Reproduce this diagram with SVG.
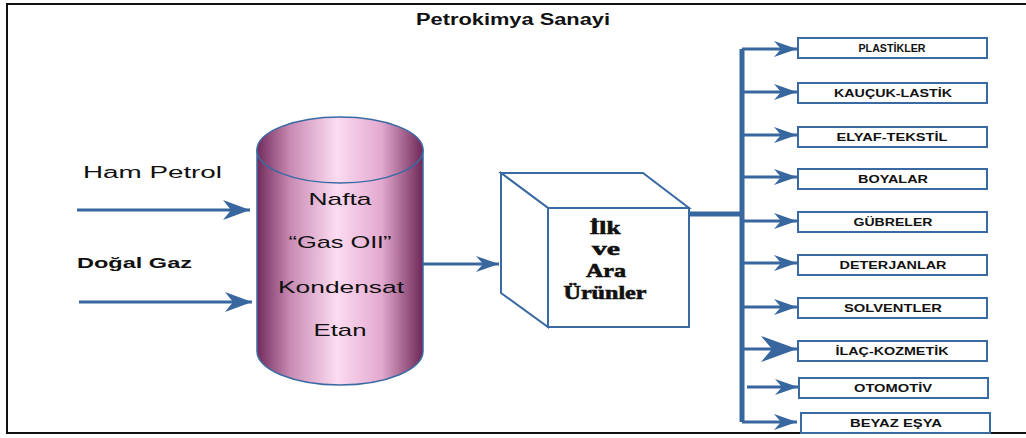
<svg xmlns="http://www.w3.org/2000/svg" width="1026" height="438" viewBox="0 0 1026 438">
<style>
.frame{fill:none;stroke:#111;stroke-width:2}
.conn{stroke:#38679f;fill:none}
.thin{stroke-width:3}
.thick{stroke-width:5}
.box{fill:#fff;stroke:#3a6aa3;stroke-width:2}
.lbl{font-family:"Liberation Sans",Arial,sans-serif;font-weight:bold;font-size:10px;fill:#111;text-anchor:middle}
.ctext{font-family:"Liberation Sans",Arial,sans-serif;font-size:17px;fill:#111;text-anchor:middle}
.side{font-family:"Liberation Sans",Arial,sans-serif;fill:#111}
.cube{fill:#fff;stroke:#3a6aa3;stroke-width:2}
.serif{font-family:"Liberation Serif","Times New Roman",serif;font-weight:bold;font-size:19px;fill:#111;stroke:#111;stroke-width:0.6;text-anchor:middle}
</style>
<defs>
<linearGradient id="cyl" x1="0" y1="0" x2="1" y2="0">
<stop offset="0" stop-color="#722b5c"/>
<stop offset="0.2" stop-color="#c88ab3"/>
<stop offset="0.48" stop-color="#fcdcf2"/>
<stop offset="0.75" stop-color="#e3a9cf"/>
<stop offset="1" stop-color="#6e2757"/>
</linearGradient>
<marker id="ah" markerUnits="userSpaceOnUse" markerWidth="24" markerHeight="16" refX="23" refY="8" orient="auto">
<path d="M0,0 L23,8 L0,16 L7,8 z" fill="#38679f"/>
</marker>
<marker id="ahL" markerUnits="userSpaceOnUse" markerWidth="28" markerHeight="22" refX="27" refY="10" orient="auto">
<path d="M0,0 L27,10 L0,20 L8,10 z" fill="#38679f"/>
</marker>
<marker id="ahXL" markerUnits="userSpaceOnUse" markerWidth="38" markerHeight="28" refX="36" refY="13" orient="auto">
<path d="M0,0 L36,13 L0,26 L11,13 z" fill="#38679f"/>
</marker>
</defs>
<rect width="1026" height="438" fill="#fff"/>
<path class="frame" d="M1026,4 H7 V433 H1026"/>
<text x="513" y="25" font-family="'Liberation Sans',Arial,sans-serif" font-weight="bold" font-size="16" fill="#111" text-anchor="middle" textLength="194" lengthAdjust="spacingAndGlyphs">Petrokimya Sanayi</text>

<g id="inputs">
<text class="side" x="83" y="178" font-size="16" textLength="139" lengthAdjust="spacingAndGlyphs">Ham Petrol</text>
<text class="side" x="77" y="268" font-size="15.5" font-weight="bold" textLength="115" lengthAdjust="spacingAndGlyphs">Doğal Gaz</text>
</g>

<g id="tank">
<path d="M257,150 V351 A83,34 0 0 0 423,351 V150 Z" fill="url(#cyl)" stroke="#3a6aa3" stroke-width="1.5"/>
<ellipse cx="340" cy="150" rx="83" ry="33" fill="url(#cyl)" stroke="#3a6aa3" stroke-width="1.5"/>
<text class="ctext" x="340" y="205" textLength="63" lengthAdjust="spacingAndGlyphs">Nafta</text>
<text class="ctext" x="340" y="248" textLength="103" lengthAdjust="spacingAndGlyphs">“Gas OIl”</text>
<text class="ctext" x="341" y="293" textLength="126" lengthAdjust="spacingAndGlyphs">Kondensat</text>
<text class="ctext" x="340" y="336" textLength="53" lengthAdjust="spacingAndGlyphs">Etan</text>
</g>

<g id="cube">
<path class="cube" d="M501,173 H643 L689,208 H548 Z"/>
<path class="cube" d="M501,173 L548,208 V327 L501,293 Z"/>
<rect class="cube" x="548" y="208" width="141" height="119"/>
<text class="serif" x="605" y="234" textLength="31" lengthAdjust="spacingAndGlyphs">İlk</text>
<text class="serif" x="606" y="255" textLength="28" lengthAdjust="spacingAndGlyphs">ve</text>
<text class="serif" x="606" y="277" textLength="40" lengthAdjust="spacingAndGlyphs">Ara</text>
<text class="serif" x="605" y="299" textLength="83" lengthAdjust="spacingAndGlyphs">Ürünler</text>
</g>

<g id="connectors">
<line class="conn thin" x1="77" y1="210" x2="250" y2="210" marker-end="url(#ahL)"/>
<line class="conn thin" x1="79" y1="302" x2="252" y2="302" marker-end="url(#ahL)"/>
<line class="conn thin" x1="423" y1="264" x2="499" y2="264" marker-end="url(#ah)"/>
<line class="conn thick" x1="689" y1="214" x2="744" y2="214"/>
<path class="conn thick" d="M742,49 V422"/>
<line class="conn thin" x1="742" y1="49" x2="797" y2="49" marker-end="url(#ah)"/>
<line class="conn thin" x1="742" y1="92" x2="797" y2="92" marker-end="url(#ah)"/>
<line class="conn thin" x1="742" y1="135" x2="797" y2="135" marker-end="url(#ah)"/>
<line class="conn thin" x1="742" y1="177" x2="797" y2="177" marker-end="url(#ah)"/>
<line class="conn thin" x1="742" y1="221" x2="797" y2="221" marker-end="url(#ah)"/>
<line class="conn thin" x1="742" y1="263" x2="797" y2="263" marker-end="url(#ah)"/>
<line class="conn thin" x1="742" y1="307" x2="797" y2="307" marker-end="url(#ah)"/>
<line class="conn thin" x1="742" y1="349" x2="797" y2="349" marker-end="url(#ahXL)"/>
<line class="conn thin" x1="747" y1="387" x2="798" y2="387" marker-end="url(#ah)"/>
<line class="conn thin" x1="742" y1="422" x2="797" y2="422" marker-end="url(#ah)"/>
</g>

<g id="n-plastikler"><rect class="box" x="798" y="38" width="189" height="20"/><text class="lbl" x="892" y="52" font-size="9" textLength="67" lengthAdjust="spacingAndGlyphs">PLASTİKLER</text></g>
<g id="n-kaucuk"><rect class="box" x="798" y="83" width="189" height="20"/><text class="lbl" x="893" y="97" textLength="118" lengthAdjust="spacingAndGlyphs">KAUÇUK-LASTİK</text></g>
<g id="n-elyaf"><rect class="box" x="798" y="127" width="189" height="20"/><text class="lbl" x="892" y="141" textLength="111" lengthAdjust="spacingAndGlyphs">ELYAF-TEKSTİL</text></g>
<g id="n-boyalar"><rect class="box" x="798" y="169" width="189" height="20"/><text class="lbl" x="893" y="183" textLength="70" lengthAdjust="spacingAndGlyphs">BOYALAR</text></g>
<g id="n-gubreler"><rect class="box" x="798" y="212" width="189" height="20"/><text class="lbl" x="893" y="226" textLength="79" lengthAdjust="spacingAndGlyphs">GÜBRELER</text></g>
<g id="n-deterjanlar"><rect class="box" x="798" y="255" width="189" height="20"/><text class="lbl" x="893" y="269" textLength="107" lengthAdjust="spacingAndGlyphs">DETERJANLAR</text></g>
<g id="n-solventler"><rect class="box" x="798" y="298" width="189" height="20"/><text class="lbl" x="893" y="312" textLength="98" lengthAdjust="spacingAndGlyphs">SOLVENTLER</text></g>
<g id="n-ilac"><rect class="box" x="798" y="341" width="189" height="20"/><text class="lbl" x="892" y="355" textLength="113" lengthAdjust="spacingAndGlyphs">İLAÇ-KOZMETİK</text></g>
<g id="n-otomotiv"><rect class="box" x="799" y="378" width="189" height="20"/><text class="lbl" x="893" y="392" textLength="78" lengthAdjust="spacingAndGlyphs">OTOMOTİV</text></g>
<g id="n-beyaz"><rect class="box" x="801" y="413" width="189" height="20"/><text class="lbl" x="896" y="427" textLength="92" lengthAdjust="spacingAndGlyphs">BEYAZ EŞYA</text></g>
</svg>
